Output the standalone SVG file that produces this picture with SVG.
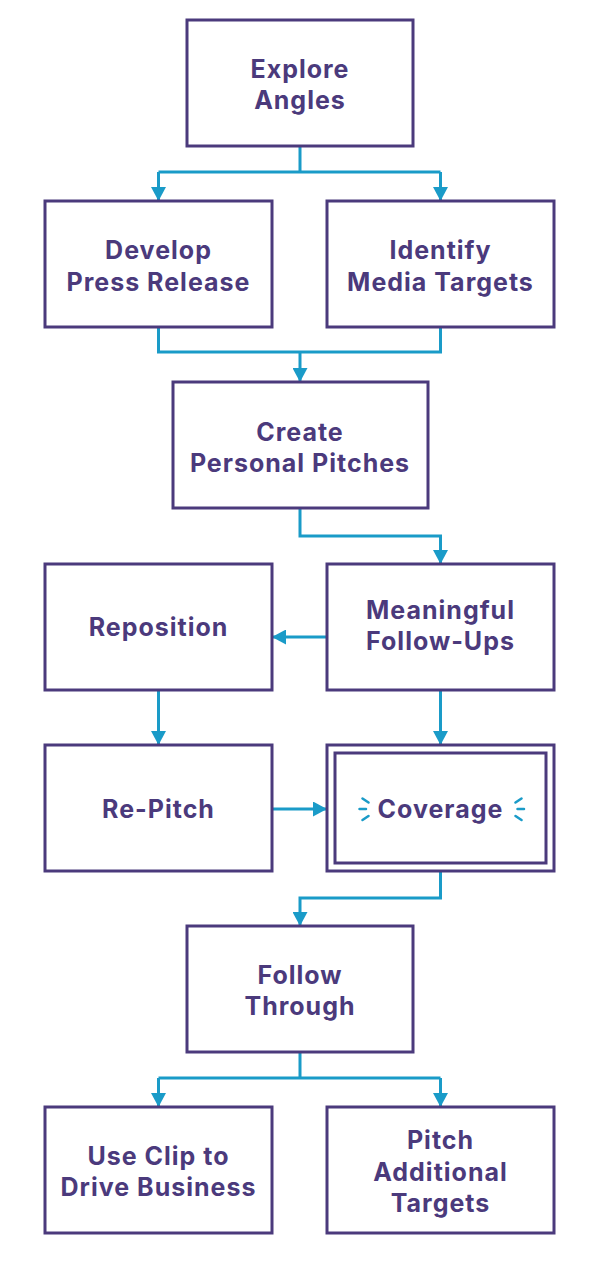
<svg xmlns="http://www.w3.org/2000/svg" width="599" height="1268" viewBox="0 0 599 1268">
<style>
.box{fill:#fff;stroke:#4b3a7c;stroke-width:3}
.t{font-family:Inter,"Open Sans","Liberation Sans",sans-serif;font-weight:700;font-size:25px;letter-spacing:1px;fill:#4b3a7c;text-anchor:middle}
.c{fill:none;stroke:#1a9bc8;stroke-width:3}
.sp{stroke:#1a9bc8;stroke-width:2.5;stroke-linecap:round}
</style>
<defs>
<marker id="ah" markerUnits="userSpaceOnUse" markerWidth="14" markerHeight="15" refX="13" refY="7.5" orient="auto" viewBox="0 0 14 15">
<path d="M0,0 L14,7.5 L0,15 z" fill="#1a9bc8"/>
</marker>
</defs>
<rect width="599" height="1268" fill="#fff"/>
<g id="connectors">
<path class="c" d="M300,146 V172 M158.5,172 H440.5"/>
<path class="c" d="M158.5,172 V200" marker-end="url(#ah)"/>
<path class="c" d="M440.5,172 V200" marker-end="url(#ah)"/>
<path class="c" d="M158.5,327 V352 H440.5 V327"/>
<path class="c" d="M300,352 V381" marker-end="url(#ah)"/>
<path class="c" d="M300,508 V536 H440.5 V563" marker-end="url(#ah)"/>
<path class="c" d="M327,637 H273" marker-end="url(#ah)"/>
<path class="c" d="M158.5,690 V744" marker-end="url(#ah)"/>
<path class="c" d="M440.5,690 V744" marker-end="url(#ah)"/>
<path class="c" d="M272,809 H326" marker-end="url(#ah)"/>
<path class="c" d="M440.5,871 V898 H300 V925" marker-end="url(#ah)"/>
<path class="c" d="M300,1052 V1078 M158.5,1078 H440.5"/>
<path class="c" d="M158.5,1078 V1106" marker-end="url(#ah)"/>
<path class="c" d="M440.5,1078 V1106" marker-end="url(#ah)"/>
</g>
<g id="explore">
<rect class="box" x="187" y="20" width="226" height="126"/>
<text class="t" x="300" y="78">Explore</text>
<text class="t" x="300" y="109">Angles</text>
</g>
<g id="develop">
<rect class="box" x="45" y="201" width="227" height="126"/>
<text class="t" x="158.5" y="259">Develop</text>
<text class="t" x="158.5" y="291">Press Release</text>
</g>
<g id="identify">
<rect class="box" x="327" y="201" width="227" height="126"/>
<text class="t" x="440.5" y="259">Identify</text>
<text class="t" x="440.5" y="291">Media Targets</text>
</g>
<g id="create">
<rect class="box" x="173" y="382" width="255" height="126"/>
<text class="t" x="300" y="441">Create</text>
<text class="t" x="300" y="472">Personal Pitches</text>
</g>
<g id="reposition">
<rect class="box" x="45" y="564" width="227" height="126"/>
<text class="t" x="158.5" y="636">Reposition</text>
</g>
<g id="followups">
<rect class="box" x="327" y="564" width="227" height="126"/>
<text class="t" x="440.5" y="619">Meaningful</text>
<text class="t" x="440.5" y="650">Follow-Ups</text>
</g>
<g id="repitch">
<rect class="box" x="45" y="745" width="227" height="126"/>
<text class="t" x="158.5" y="818">Re-Pitch</text>
</g>
<g id="coverage">
<rect class="box" x="327" y="745" width="227" height="126"/>
<rect class="box" x="335" y="753" width="211" height="110"/>
<text class="t" x="440.5" y="818">Coverage</text>
<path class="sp" d="M362.5,798.5 L368.5,802.5 M359.5,809 L366,809 M362.5,820 L368.5,816 M521.5,798.5 L515.5,802.5 M524,809 L517.5,809 M521.5,820 L515.5,816"/>
</g>
<g id="follow">
<rect class="box" x="187" y="926" width="226" height="126"/>
<text class="t" x="300" y="984">Follow</text>
<text class="t" x="300" y="1015">Through</text>
</g>
<g id="useclip">
<rect class="box" x="45" y="1107" width="227" height="126"/>
<text class="t" x="158.5" y="1165">Use Clip to</text>
<text class="t" x="158.5" y="1196">Drive Business</text>
</g>
<g id="pitch">
<rect class="box" x="327" y="1107" width="227" height="126"/>
<text class="t" x="440.5" y="1149">Pitch</text>
<text class="t" x="440.5" y="1181">Additional</text>
<text class="t" x="440.5" y="1212">Targets</text>
</g>
</svg>
